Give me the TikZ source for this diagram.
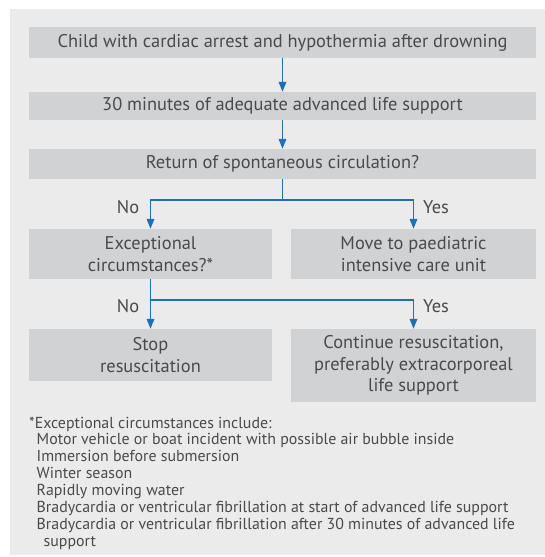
\documentclass[tikz,border=0pt]{standalone}
\usepackage{fontspec}
\setmainfont{PT Sans}
\usetikzlibrary{arrows.meta,backgrounds}
\definecolor{panel}{HTML}{EBEBEC}
\definecolor{boxfill}{HTML}{D1D2D4}
\definecolor{boxshadow}{HTML}{ABACAE}
\definecolor{txt}{HTML}{4A4A4C}
\definecolor{flow}{HTML}{1C6FB8}
\tikzset{
  box/.style={fill=boxfill, text=txt, align=center, inner sep=0pt,
    font=\fontsize{18.4}{21.5}\selectfont},
  shadowfill/.style={fill=boxshadow},
  flowline/.style={draw=flow, line width=1.8pt},
  flowarrow/.style={flowline, -{Triangle[length=10pt,width=7.5pt]}},
  lbl/.style={text=txt, font=\fontsize{18.4}{20}\selectfont, inner sep=0pt},
}
\begin{document}
\begin{tikzpicture}[x=1pt,y=-1pt]
\useasboundingbox (0,0) rectangle (545,557);
\node[box, minimum width=507pt, minimum height=31pt] (b1) at (282.5,42.5) {Child with cardiac arrest and hypothermia after drowning};
\node[box, minimum width=507pt, minimum height=28pt] (b2) at (282.5,106) {30 minutes of adequate advanced life support};
\node[box, minimum width=507pt, minimum height=30pt] (b3) at (282.5,164) {Return of spontaneous circulation?};
\node[box, minimum width=243pt, minimum height=50pt] (b4) at (150.5,254) {Exceptional\\circumstances?*};
\node[box, minimum width=245pt, minimum height=50pt] (b5) at (413.5,254) {Move to paediatric\\intensive care unit};
\node[box, minimum width=243pt, minimum height=52pt] (b6) at (150.5,355) {Stop\\resuscitation};
\node[box, minimum width=245pt, minimum height=73pt] (b7) at (413.5,365.5) {Continue resuscitation,\\preferably extracorporeal\\life support};
\begin{scope}[on background layer]
  \fill[panel] (10,9) rectangle (545,555);
  \foreach \b in {b1,b2,b3,b4,b5,b6,b7}
    \fill[shadowfill, shift={(3,3)}] (\b.north west) rectangle (\b.south east);
\end{scope}
\coordinate (j1) at (282.5,200);
\coordinate (j2) at (150.5,300);
\draw[flowarrow] (b1.south) -- (b2.north);
\draw[flowarrow] (b2.south) -- (b3.north);
\draw[flowline] (b3.south) -- (j1);
\draw[flowarrow] (j1) -| (b4.north);
\draw[flowarrow] (j1) -| (b5.north);
\draw[flowline] (b4.south) -- (j2);
\draw[flowarrow] (j2) -- (b6.north);
\draw[flowarrow] (j2) -| (b7.north);
\node[lbl] (no1) at (128,207) {No};
\node[lbl] (yes1) at (436,207) {Yes};
\node[lbl] (no2) at (128,306) {No};
\node[lbl] (yes2) at (436,306) {Yes};
\node[anchor=north west, text=txt, align=left, inner sep=0pt,
  font=\fontsize{15.9}{16.9}\selectfont] (fn) at (29,416.5)
  {*Exceptional circumstances include:\\
  \hspace*{7.5pt}Motor vehicle or boat incident with possible air bubble inside\\
  \hspace*{7.5pt}Immersion before submersion\\
  \hspace*{7.5pt}Winter season\\
  \hspace*{7.5pt}Rapidly moving water\\
  \hspace*{7.5pt}Bradycardia or ventricular fibrillation at start of advanced life support\\
  \hspace*{7.5pt}Bradycardia or ventricular fibrillation after 30 minutes of advanced life\\
  \hspace*{14.5pt}support};
\end{tikzpicture}
\end{document}
